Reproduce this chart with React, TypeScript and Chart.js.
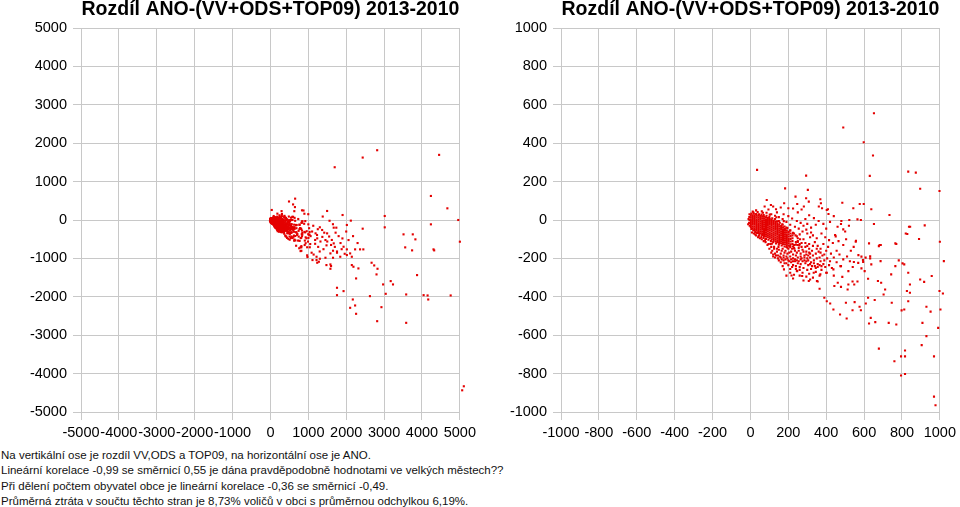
import React, { useEffect, useRef } from 'react';
import { Chart, registerables } from 'chart.js';

Chart.register(...registerables);

const TITLE = 'Rozdíl ANO-(VV+ODS+TOP09) 2013-2010';
const FONT = "'Liberation Sans', Arial, Helvetica, sans-serif";

// axis ranges / tick labels
const leftRange = { min: -5000, max: 5000, step: 1000 };
const rightRange = { min: -1000, max: 1000, step: 200 };

const captionLines = [
  'Na vertikální ose je rozdíl VV,ODS a TOP09, na horizontální ose je ANO.',
  'Lineární korelace -0,99 se směrnicí 0,55 je dána pravděpodobně hodnotami ve velkých městech??',
  'Při dělení počtem obyvatel obce je lineární korelace -0,36 se směrnicí -0,49.',
  'Průměrná ztráta v součtu těchto stran je 8,73% voličů v obci s průměrnou odchylkou 6,19%.',
];

// dense core of municipalities: [ANO x, list of differences y]
const coreColumns: [number, number[]][] = [
  [2, [24, 14, 4, -6, -16, -26, -36]],
  [12, [25, 15, 5, -5, -15, -25, -35, -45]],
  [22, [25, 15, 5, -5, -15, -25, -35, -45, -52]],
  [32, [24, 14, 4, -6, -16, -26, -36, -46, -56]],
  [42, [23, 13, 3, -7, -17, -27, -37, -47, -57, -64]],
  [52, [21, 11, 1, -9, -19, -29, -39, -49, -59, -69]],
  [62, [19, 9, -1, -11, -21, -31, -41, -51, -61, -71, -78]],
  [72, [17, 7, -3, -13, -23, -33, -43, -53, -63, -73, -83]],
  [82, [14, 4, -6, -16, -26, -36, -46, -56, -66, -76, -86]],
  [92, [10, 0, -10, -20, -30, -40, -50, -60, -70, -80, -90]],
  [102, [5, -5, -15, -25, -35, -45, -55, -65, -75, -85, -95]],
  [112, [0, -10, -20, -30, -40, -50, -60, -70, -80, -90, -100]],
  [122, [-5, -15, -25, -35, -45, -55, -65, -75, -85, -95, -105]],
  [132, [-11, -21, -31, -41, -51, -61, -71, -81, -91, -101, -111]],
  [142, [-17, -27, -37, -47, -57, -67, -77, -87, -97, -107, -115]],
  [152, [-24, -34, -44, -54, -64, -74, -84, -94, -104, -114, -120]],
  [162, [-31, -41, -51, -61, -71, -81, -91, -101, -111, -121]],
  [172, [-38, -48, -58, -68, -78, -88, -98, -108, -118, -126]],
  [182, [-46, -56, -66, -76, -86, -96, -106, -116, -126]],
  [192, [-54, -64, -74, -84, -94, -104, -114, -124, -132]],
  [202, [-62, -74, -86, -98, -110, -122, -134]],
  [212, [-70, -84, -98, -112, -126]],
  [222, [-80, -95, -110, -125]],
];

// fuzzy fringe around the core
const fringePoints: [number, number][] = [
  [-5, 30], [5, 33], [18, 34], [30, 31], [45, 30], [58, 28], [70, 26], [85, 22], [100, 16], [115, 9],
  [128, 1], [140, -7], [155, -14], [168, -22], [180, -34], [195, -42], [210, -54], [225, -67], [238, -80], [250, -95],
  [-6, 15], [-5, 0], [-7, -15], [-4, -30], [5, -46], [15, -55], [25, -62], [35, -68], [48, -76], [58, -88],
  [70, -93], [82, -98], [95, -103], [108, -110], [120, -115], [135, -122], [150, -128], [165, -133], [180, -138], [195, -144],
  [210, -141], [225, -138], [240, -128], [250, -114], [12, 44], [38, 41], [66, 38], [102, 28], [137, 14], [176, -6],
  [-10, 5], [-12, -22], [18, -70], [44, -84], [77, -106], [113, -124], [148, -140], [232, -150], [258, -132], [262, -100],
];

// scattered points around the core
const haloPoints: [number, number][] = [
  [60, 45], [85, 38], [110, 30], [130, 22], [150, 15], [170, 5], [95, 55], [140, 40], [175, 30], [200, 20],
  [220, 8], [245, -5], [265, -15], [190, -10], [210, -25], [235, -35], [255, -45], [280, -30], [300, -20], [320, -40],
  [345, -25], [290, 5], [310, 25], [335, 10], [360, -5], [385, -20], [400, -45], [420, -10], [440, 20], [460, -35],
  [480, -5], [500, -60], [520, -30], [250, 40], [270, 55], [225, 60], [160, 65], [120, 70], [75, 70], [30, 50],
  [15, 40], [45, -70], [25, -75], [8, -65], [40, -90],
  [250, -110], [260, -125], [270, -140], [280, -100], [290, -120], [300, -135], [310, -150], [255, -160], [265, -175], [280, -165],
  [295, -180], [310, -170], [325, -160], [240, -185], [250, -195], [270, -200], [285, -210], [300, -200], [315, -195], [330, -185],
  [345, -175], [360, -165], [225, -200], [210, -190], [195, -175], [180, -170], [165, -160], [150, -155], [140, -165], [125, -150],
  [110, -140], [95, -125], [80, -115], [200, -210], [215, -220], [235, -215], [250, -225], [265, -230], [290, -225], [305, -235],
  [320, -220], [335, -210], [350, -200], [365, -195], [380, -185], [340, -240], [355, -230], [370, -215], [390, -210], [405, -200],
  [420, -215], [320, -255], [300, -260], [280, -250], [260, -245], [240, -240], [225, -235], [190, -225], [175, -210], [160, -195],
  [145, -185], [130, -175], [120, -190], [170, -240], [210, -255], [245, -265], [275, -275], [310, -280], [345, -270], [375, -260],
  [395, -245], [415, -235], [430, -250], [330, -300], [295, -295], [260, -290], [230, -285], [365, -290], [400, -275], [440, -290],
  [355, -320], [315, -310], [280, -315], [210, -275], [190, -290], [225, -305], [340, -115], [355, -135], [370, -150], [385, -125],
  [400, -160], [410, -140], [425, -175], [440, -195], [455, -160], [470, -180], [330, -80], [350, -95], [375, -70], [395, -90],
  [415, -105], [435, -120], [450, -85], [465, -110], [490, -130], [505, -100], [455, -220], [475, -240], [490, -205], [510, -190],
  [530, -160], [545, -140], [525, -215], [540, -245], [260, -75], [275, -60], [300, -70], [315, -90], [245, -85], [230, -70],
  [210, -55], [190, -40], [170, -25], [150, -5], [130, 5], [295, -50], [320, -65], [240, -115], [230, -130], [220, -150],
  [190, -190], [175, -185], [160, -175], [140, -150], [125, -140], [105, -125], [60, -100], [30, -80], [50, -95], [70, -110],
  [90, -130], [100, -150], [115, -160], [130, -195], [150, -210],
];

// denser band below the core
const bandPoints: [number, number][] = [
  [110, -170], [120, -180], [135, -185], [145, -200], [155, -190], [165, -205], [175, -195], [185, -205], [195, -200], [205, -215],
  [215, -205], [225, -215], [235, -205], [245, -210], [255, -215], [265, -205], [275, -215], [285, -195], [295, -215], [305, -210],
  [315, -230], [325, -240], [335, -225], [345, -250], [355, -245], [365, -235], [375, -240], [385, -230], [160, -220], [180, -225],
  [200, -235], [220, -245], [240, -255], [260, -260], [185, -160], [205, -170], [225, -180], [245, -170], [265, -190], [285, -185],
  [305, -185], [200, -150], [215, -165], [235, -160], [255, -145], [275, -155], [295, -165], [315, -175], [170, -150], [190, -140],
  [210, -135], [230, -145], [250, -130], [270, -120], [290, -140], [310, -125], [330, -135], [350, -150], [370, -170], [390, -180],
];

// isolated points visible in the zoomed (right) chart
const nearOutliers: [number, number][] = [
  [35, 261], [490, 482], [652, 556], [598, 405], [647, 336], [630, 230], [294, 231], [183, 165], [303, 157], [833, 252],
  [873, 247], [896, 163], [998, 151], [734, 26], [837, -35], [820, -70], [920, -28], [890, -99], [1000, -113], [638, 56],
  [577, 83], [598, 83], [565, 3], [583, 0], [652, -21], [485, 90], [543, 61], [522, 0], [478, -21], [490, -49],
  [557, -108], [626, -122], [682, -130], [765, -122], [447, -78], [403, 52], [369, 108], [372, 87], [412, 31], [294, 113],
  [308, 96], [247, 83], [238, 122], [86, 104], [108, 78], [178, 87], [135, 56], [200, 61], [282, 70], [361, 70],
  [378, 61], [409, 56],
  [760, -736], [795, -810], [816, -802], [795, -710], [816, -710], [816, -680], [678, -670], [969, -710], [969, -920], [977, -965],
  [1038, -710], [1050, -626], [904, -652], [929, -605], [908, -536], [991, -562], [951, -477], [929, -452], [1003, -466], [998, -370],
  [1033, -383], [1016, -383], [1035, -310], [1021, -214], [957, -292], [896, -310], [917, -322], [833, -275], [842, -336], [826, -370],
  [842, -379], [833, -423], [812, -466], [798, -471], [770, -544], [730, -536], [746, -431], [711, -362], [703, -388], [743, -283],
  [765, -240], [803, -226], [812, -231], [783, -210], [687, -214], [673, -318], [690, -327], [656, -417], [659, -532], [635, -510],
  [626, -539], [609, -435], [621, -405], [583, -470], [576, -452], [550, -428], [539, -470], [508, -513], [504, -431], [473, -492],
  [438, -466], [403, -423], [421, -435], [390, -405], [539, -320], [548, -336], [565, -320], [517, -336], [513, -362], [478, -348],
  [485, -296], [461, -327], [443, -344], [586, -252], [603, -266], [621, -306], [638, -231], [595, -219], [569, -223], [546, -219],
  [517, -266], [478, -240], [438, -257], [403, -275], [369, -283], [365, -358], [351, -318], [334, -275], [308, -318], [273, -292],
  [217, -289], [177, -257], [247, -266], [570, -183], [586, -191], [608, -196], [632, -189], [632, -200], [594, -209], [556, -113],
  [678, -136], [688, -130], [770, -125], [843, -35], [828, -73],
];

// points beyond the zoomed range, visible only in the left chart
const farOutliers: [number, number][] = [
  [1696, 1374], [2435, 1626], [2817, 1817], [4452, 1696], [4235, 626], [4670, 304], [4957, 0], [5000, -565], [4235, -113], [3017, 104],
  [3017, -191], [2435, -226], [1904, 130], [2122, -17], [1496, 235], [1670, -200], [1739, -200], [3513, -374], [3757, -374], [3826, -504],
  [3557, -713], [4304, -765], [1930, -696], [2061, -522], [2365, -765], [2452, -765], [2235, -765],
  [5365, -4878], [5104, -4330], [5061, -4435], [5174, -2400], [5130, -1591], [4757, -1965], [4148, -1965], [4043, -1957], [4165, -2070],
  [3870, -1435], [3583, -1939], [3583, -2678], [3174, -1591], [3235, -1678], [2974, -1678], [3043, -1922], [2930, -2270], [2817, -2635],
  [2626, -1983], [2826, -1270], [2800, -1417], [2670, -1113], [2739, -1183], [2322, -1261], [2261, -1522], [2148, -957], [2148, -1174],
  [2174, -2070], [2235, -2226], [2261, -2443], [2104, -2287], [1930, -1852], [1757, -1765], [1757, -1957], [2017, -913], [1583, -1157],
  [1583, -1270], [1652, -983], [1452, -983], [1304, -1009], [1217, -1043], [1235, -1113], [1087, -852], [3739, -791], [4322, -791],
  [2017, -130], [1304, -190], [1365, -260], [1496, -348], [1191, -348], [1235, -478], [1452, -522], [1670, -609], [1583, -870],
  [1757, -852], [1843, -957], [1217, -957], [1278, -1087], [1478, -1174], [1600, -1200], [2017, -765], [2104, -870], [2191, -1217],
  [1110, -1043], [1652, -800], [1757, -820], [1100, -300], [1230, -390], [1370, -440], [1500, -560], [1600, -650], [1800, -420],
  [2000, -300], [1850, -600], [1130, -150], [1180, -620], [1260, -700], [1320, -560], [1400, -760], [1420, -330], [1550, -430],
  [1620, -520], [1700, -700], [1880, -760], [1960, -880], [1140, -900], [1300, -820], [1250, -240], [1560, -20], [1380, 90],
  [1720, -330], [1900, -480], [1480, -660], [1180, -520], [2300, -600], [2180, -420], [1060, -420], [1650, -110],
];

function buildPoints() {
  const pts: { x: number; y: number }[] = [];
  coreColumns.forEach(([x, ys]) => ys.forEach((y) => pts.push({ x, y })));
  [fringePoints, haloPoints, bandPoints, nearOutliers, farOutliers].forEach((list) =>
    list.forEach(([x, y]) => pts.push({ x, y }))
  );
  return pts;
}

const GRID = '#c8c8c8';

function ScatterChart({ range, clip }: { range: { min: number; max: number; step: number }; clip: any }) {
  const ref = useRef<HTMLCanvasElement | null>(null);
  useEffect(() => {
    if (!ref.current) return;
    const axisTicks = (padding: number) => ({
      stepSize: range.step,
      color: '#000',
      font: { family: FONT, size: 14.5 },
      padding,
      autoSkip: false,
      maxRotation: 0,
      minRotation: 0,
      callback: (v: any) => String(v),
    });
    const chart = new Chart(ref.current, {
      type: 'scatter',
      data: {
        datasets: [
          {
            data: buildPoints(),
            backgroundColor: '#e40000',
            borderWidth: 0,
            pointStyle: 'rect',
            pointRadius: 1.5,
            clip,
          } as any,
        ],
      },
      options: {
        responsive: false,
        animation: false,
        layout: { padding: { left: 0, right: 16, top: 0, bottom: 0 } },
        plugins: {
          legend: { display: false },
          tooltip: { enabled: false },
          title: {
            display: true,
            text: TITLE,
            fullSize: false,
            color: '#000',
            font: { family: FONT, size: 19.5, weight: 'bold', lineHeight: 1 },
            padding: { top: 0, bottom: 8.5 },
          },
        },
        scales: {
          x: {
            type: 'linear',
            min: range.min,
            max: range.max,
            ticks: axisTicks(4),
            grid: { color: GRID, tickColor: GRID, tickLength: 8, lineWidth: 1 },
            border: { color: GRID },
            afterFit: (s: any) => {
              s.height = 35;
            },
          },
          y: {
            type: 'linear',
            min: range.min,
            max: range.max,
            ticks: axisTicks(6),
            grid: { color: GRID, tickColor: GRID, tickLength: 8, lineWidth: 1 },
            border: { color: GRID },
            afterFit: (s: any) => {
              s.width = 81;
            },
          },
        },
      } as any,
    });
    return () => chart.destroy();
  }, []);
  return <canvas ref={ref} width={480} height={447} style={{ display: 'block' }} />;
}

export default function App() {
  useEffect(() => {
    document.body.style.margin = '0';
    document.body.style.background = '#fff';
  }, []);
  return (
    <div style={{ width: 960, height: 507, overflow: 'hidden', background: '#fff', fontFamily: FONT }}>
      <div style={{ display: 'flex' }}>
        <ScatterChart range={leftRange} clip={false} />
        <ScatterChart range={rightRange} clip={{ left: 2, top: 2, right: 14, bottom: 2 }} />
      </div>
      <div
        style={{
          fontSize: 11.5,
          lineHeight: '15.4px',
          paddingTop: 1,
          color: '#111',
          whiteSpace: 'nowrap',
          paddingLeft: 1,
        }}
      >
        {captionLines.map((l, i) => (
          <div key={i}>{l}</div>
        ))}
      </div>
    </div>
  );
}
